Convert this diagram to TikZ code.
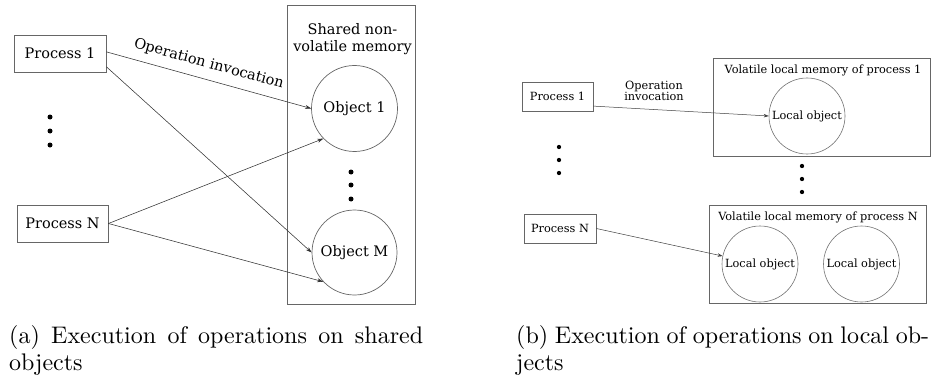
\documentclass[tikz,border=0pt]{standalone}
\usepackage{fontspec}
\usetikzlibrary{arrows.meta}
\newfontfamily\diagfont{DejaVu Serif}
\newfontfamily\capfont{lmroman10-regular.otf}

\tikzset{
  frame/.style={draw=black!60, line width=0.9pt, inner sep=0pt},
  procbig/.style={frame, font=\diagfont\fontsize{14.5}{17}\selectfont},
  procsmall/.style={frame, line width=0.7pt, font=\diagfont\fontsize{11.3}{13}\selectfont},
  objbig/.style={circle, draw=black!60, line width=0.7pt, inner sep=0pt,
    font=\diagfont\fontsize{14.5}{17}\selectfont},
  objsmall/.style={circle, draw=black!55, line width=0.6pt, inner sep=0pt,
    font=\diagfont\fontsize{11.3}{13}\selectfont},
  bigdot/.style={circle, fill=black, inner sep=0pt, minimum size=5pt},
  smalldot/.style={circle, fill=black, inner sep=0pt, minimum size=4.3pt},
  invoke/.style={-{Stealth[length=6pt,width=4pt]}, draw=black!80, line width=0.55pt},
  invokesmall/.style={-{Stealth[length=5pt,width=3.5pt]}, draw=black!75, line width=0.5pt},
  labbig/.style={font=\diagfont\fontsize{14.5}{17}\selectfont},
  labsmall/.style={font=\diagfont\fontsize{11.3}{13}\selectfont, align=center},
  capline/.style={anchor=base west, inner sep=0pt, font=\capfont\fontsize{24}{29}\selectfont}
}

\begin{document}
\begin{tikzpicture}[x=1pt, y=-1pt]
\useasboundingbox (0,0) rectangle (933,377);

% ---------- (a) shared objects ----------
\node[procbig, minimum width=92pt, minimum height=37pt] (p1) at (60,53.5) {Process 1};
\node[procbig, minimum width=91pt, minimum height=37pt] (pn) at (62.5,223.5) {Process N};
\node[bigdot] (da1) at (50,117) {};
\node[bigdot] (da2) at (50,131) {};
\node[bigdot] (da3) at (50,145) {};

\node[frame, minimum width=128pt, minimum height=299pt] (mem) at (351,154.5) {};
\node[labbig, align=center, inner sep=0pt] (memtitle) at (352.5,39) {Shared non-\\volatile memory};
\node[objbig, minimum size=86pt] (o1) at (354.5,108.5) {Object 1};
\node[objbig, minimum size=85pt] (om) at (354.5,252.5) {Object M};
\node[bigdot] (db1) at (351,172) {};
\node[bigdot] (db2) at (351,185) {};
\node[bigdot] (db3) at (351,199) {};

\draw[invoke] (p1.2) -- node[labbig, sloped, above=5pt, pos=0.48] {Operation invocation} (o1.west);
\draw[invoke] (p1.-16) -- (om.west);
\draw[invoke] (pn.east) -- (o1.224);
\draw[invoke] (pn.east) -- (om.223);

% ---------- (b) local objects ----------
\node[procsmall, minimum width=71pt, minimum height=29pt] (q1) at (557.5,96.5) {Process 1};
\node[procsmall, minimum width=72pt, minimum height=29pt] (qn) at (560,228.5) {Process N};
\node[smalldot] (dc1) at (559,147) {};
\node[smalldot] (dc2) at (559,160) {};
\node[smalldot] (dc3) at (559,173) {};
\node[labsmall, inner sep=0pt] (oplab) at (654,90.5) {Operation\\[-2pt]invocation};

\node[frame, line width=0.7pt, minimum width=217pt, minimum height=98pt] (vm1) at (821.5,107) {};
\node[labsmall, inner sep=0pt] (vm1title) at (823,70) {Volatile local memory of process 1};
\node[objsmall, minimum size=76pt] (lo1) at (807,116) {Local object};
\node[smalldot] (dd1) at (802,166) {};
\node[smalldot] (dd2) at (802,179) {};
\node[smalldot] (dd3) at (802,192) {};

\node[frame, line width=0.7pt, minimum width=217pt, minimum height=98pt] (vmn) at (817.5,254) {};
\node[labsmall, inner sep=0pt] (vmntitle) at (818,217) {Volatile local memory of process N};
\node[objsmall, minimum size=76pt] (lo2) at (760,264) {Local object};
\node[objsmall, minimum size=76pt] (lo3) at (861.5,264) {Local object};

\draw[invokesmall] (q1.-15) -- (lo1.west);
\draw[invokesmall] (qn.east) -- (lo2.168);

% ---------- captions ----------
\node[capline] (capa1) at (9,343) {\makebox[414pt][s]{(a) Execution of operations on shared}};
\node[capline] (capa2) at (9,370) {objects};
\node[capline] (capb1) at (516,343) {\makebox[413pt][s]{(b) Execution of operations on local ob-}};
\node[capline] (capb2) at (516,370) {jects};
\end{tikzpicture}
\end{document}
